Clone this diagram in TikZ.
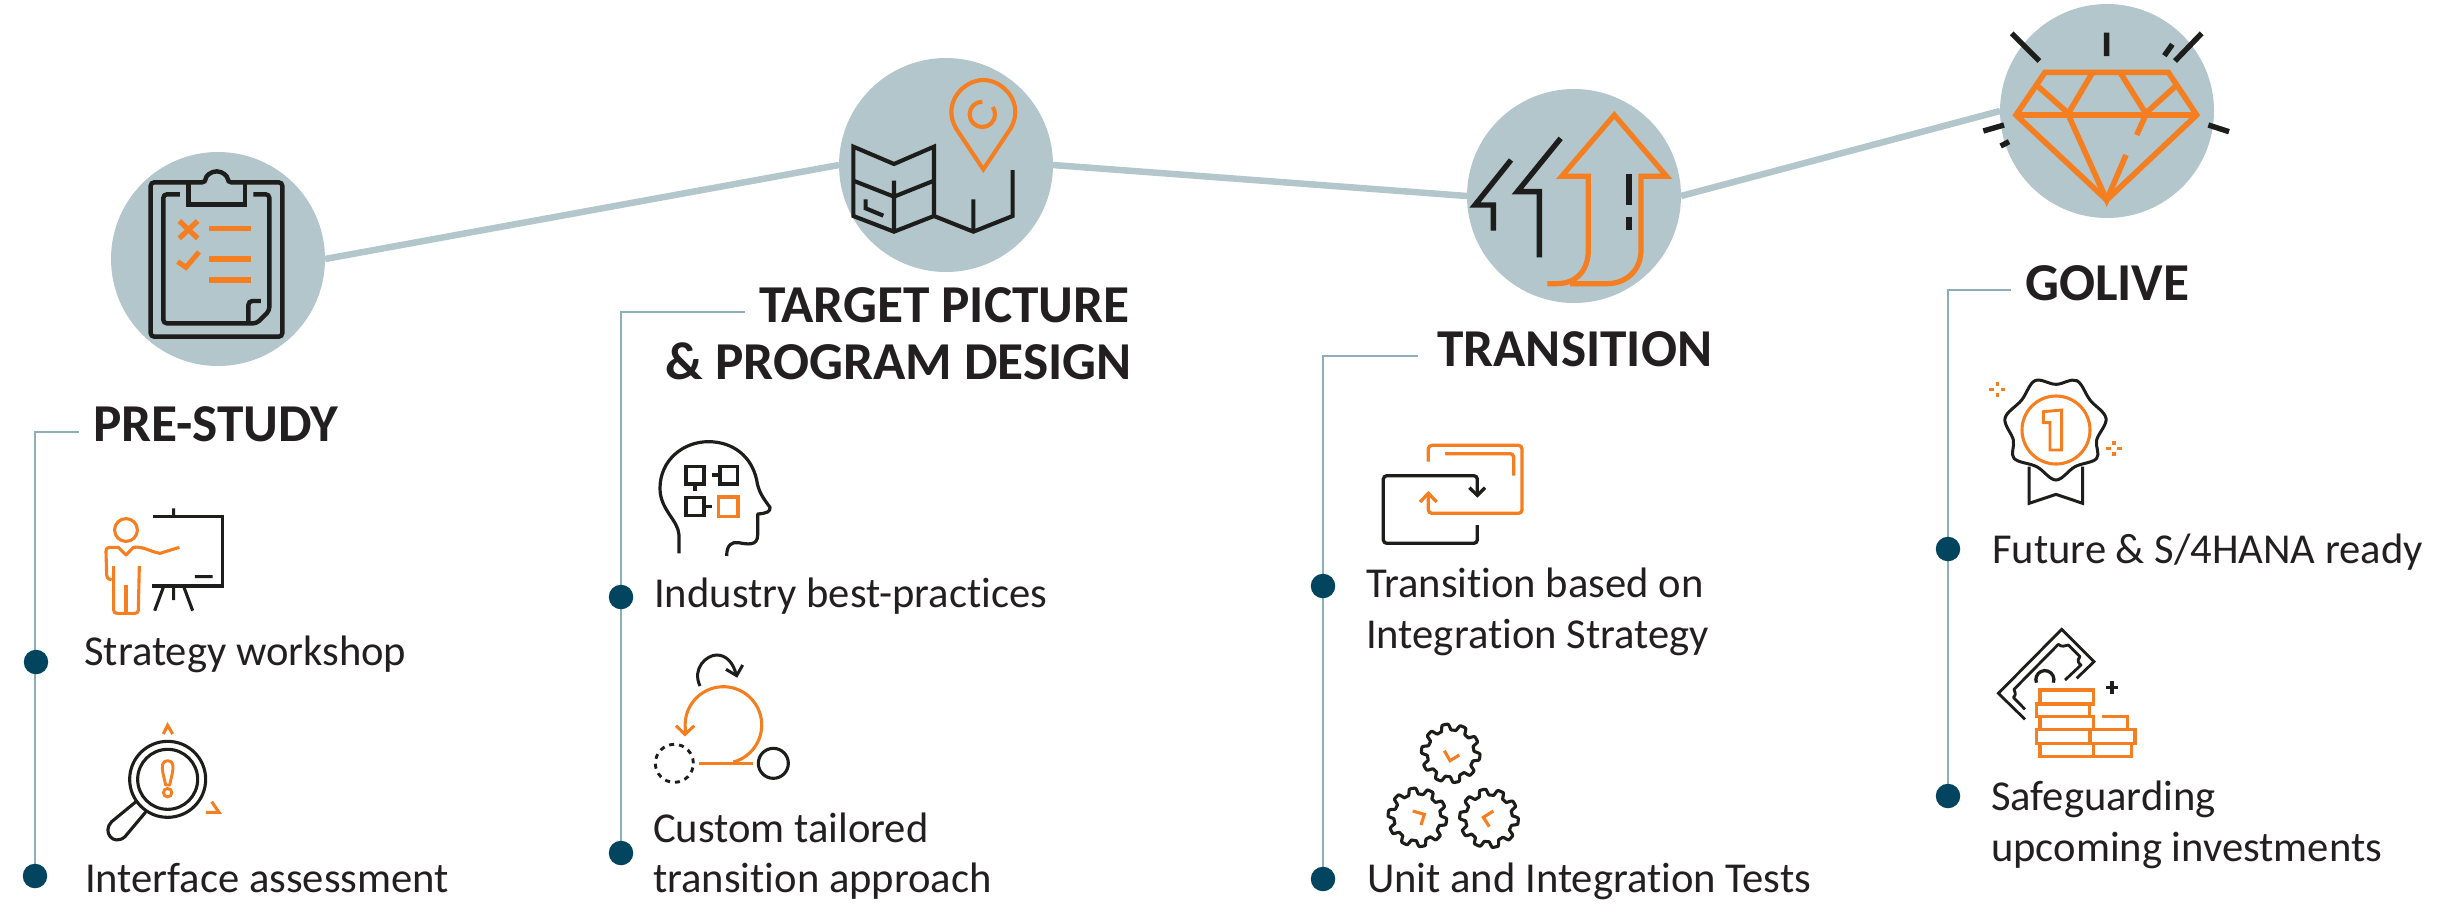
\documentclass[tikz,border=0pt]{standalone}
\usepackage{fontspec}
\setmainfont{Carlito}[Ligatures=NoCommon]
\usetikzlibrary{backgrounds}
\definecolor{disc}{HTML}{B2C6CC}
\definecolor{spine}{HTML}{8FAEBC}
\definecolor{dotc}{HTML}{03455F}
\definecolor{org}{HTML}{F47E20}
\definecolor{ink}{HTML}{1D1D1B}
\definecolor{txt}{HTML}{231F20}
\tikzset{
  disc node/.style={circle,fill=disc,minimum size=214pt,inner sep=0pt,outer sep=0pt},
  dot node/.style={circle,fill=dotc,minimum size=24.5pt,inner sep=0pt,outer sep=0pt},
  link/.style={draw=disc,line width=6.5pt},
  spine line/.style={draw=spine,line width=1.6pt},
  title text/.style={anchor=base west,inner sep=0pt,text=txt,font=\fontsize{53.3}{53.3}\selectfont\bfseries},
  title right/.style={anchor=base east,inner sep=0pt,text=txt,font=\fontsize{53.3}{53.3}\selectfont\bfseries},
  body text/.style={anchor=base west,inner sep=0pt,text=txt,font=\fontsize{42.6}{42.6}\selectfont},
  blk/.style={draw=ink,line cap=butt,line join=miter},
  orn/.style={draw=org,line cap=butt,line join=miter},
  icon/.style={x=0.33333pt,y=-0.33333pt},
}
\newcommand{\gearshape}[3]{%
  \draw[blk,line width=3.1pt,line join=round] plot[domain=0:360,samples=181,smooth cycle]
    ({#1+(79+9*max(-1,min(1,2.2*sin(10*\x+#3))))*cos(\x)},{#2+(79+9*max(-1,min(1,2.2*sin(10*\x+#3))))*sin(\x)});}
\newcommand{\sparkle}[2]{%
  \draw[orn,line width=3.4pt] (#1-24,#2) -- (#1-10,#2) (#1+10,#2) -- (#1+24,#2) (#1,#2-23) -- (#1,#2-10) (#1,#2+10) -- (#1,#2+23);}
\begin{document}
\begin{tikzpicture}[x=1pt,y=-1pt]
\useasboundingbox (0,0) rectangle (2458,922);

% discs
\node[disc node] (c1) at (218,259) {};
\node[disc node] (c2) at (946,165) {};
\node[disc node] (c3) at (1574,196) {};
\node[disc node] (c4) at (2107,111) {};
\draw[link] (c1.east) -- (c2.west);
\draw[link] (c2.east) -- (c3.west);
\draw[link] (c3.east) -- (c4.west);

% titles
\node[title text] (t1) at (93,441) {PRE-STUDY};
\node[title right] (t2a) at (1130,322) {TARGET PICTURE};
\node[title right] (t2b) at (1132,379) {\&\ PROGRAM DESIGN};
\node[title text] (t3) at (1437,366) {TRANSITION};
\node[title text] (t4) at (2025,300) {GOLIVE};

% items
\node[body text] (b11) at (84,665) {Strategy workshop};
\node[body text] (b12) at (85,892) {Interface assessment};
\node[body text] (b21) at (654,607) {Industry best-practices};
\node[body text] (b22a) at (653,842) {Custom tailored};
\node[body text] (b22b) at (653,892) {transition approach};
\node[body text] (b31a) at (1366,597) {Transition based on};
\node[body text] (b31b) at (1366,648) {Integration Strategy};
\node[body text] (b32) at (1367,892) {Unit and Integration Tests};
\node[body text] (b41) at (1992,563) {Future \&\ S/4HANA ready};
\node[body text] (b42a) at (1991,810) {Safeguarding};
\node[body text] (b42b) at (1991,861) {upcoming investments};

% spines with bullets
\node[dot node] (d11) at (36,662) {};
\node[dot node] (d12) at (35,876) {};
\node[dot node] (d21) at (621,597) {};
\node[dot node] (d22) at (621,853) {};
\node[dot node] (d31) at (1323,586) {};
\node[dot node] (d32) at (1323,879) {};
\node[dot node] (d41) at (1948,549) {};
\node[dot node] (d42) at (1948,796) {};
\coordinate (s1) at (79,432);
\coordinate (s2) at (745,312);
\coordinate (s3) at (1418,356);
\coordinate (s4) at (2011,290);
\begin{pgfonlayer}{background}
\draw[spine line] (s1) -| (d12.center);
\draw[spine line] (s2) -| (d22.center);
\draw[spine line] (s3) -| (d32.center);
\draw[spine line] (s4) -| (d42.center);
\end{pgfonlayer}

% clipboard
\begin{scope}[shift={(0,130)},icon]
\draw[blk,line width=4.4pt,rounded corners=3.5pt] (617,157) arc[start angle=180,end angle=0,radius=11pt] -- (847,157) -- (847,620) -- (452,620) -- (452,157) -- cycle;
\draw[blk,line width=4.4pt] (565,157) -- (565,224) -- (735,224) -- (735,157);
\draw[blk,line width=4.4pt,rounded corners=3.5pt] (540,193) -- (490,193) -- (490,580) -- (770,580) -- (808,542) -- (808,193) -- (760,193);
\draw[blk,line width=4.4pt,rounded corners=4pt] (745,580) -- (745,513) -- (783,513);
\draw[orn,line width=5.2pt] (538,273) -- (593,325) (593,273) -- (538,325);
\draw[orn,line width=5pt] (533,395) -- (558,412) -- (597,366);
\draw[orn,line width=5.6pt] (628,296) -- (753,296) (628,387) -- (753,387) (628,450) -- (753,450);
\end{scope}

% presenter
\begin{scope}[shift={(0,470)},icon]
\draw[blk,line width=3.1pt] (460,140) -- (667,140) -- (667,348) -- (457,348);
\draw[blk,line width=3.1pt] (521,115) -- (521,140) (585,320) -- (638,320) (490,352) -- (464,422) (521,352) -- (521,390) (552,352) -- (578,422);
\draw[orn,line width=3.1pt] (378,180) circle[radius=11.4pt];
\draw[orn,line width=3.1pt,line join=round] (335,330) .. controls (322,326) and (320,322) .. (320,315) -- (318,245) .. controls (318,235) and (322,232) .. (330,232) -- (355,232) -- (378,255) -- (400,232) .. controls (430,228) and (450,245) .. (480,250) -- (538,232);
\draw[orn,line width=3.1pt,line join=round] (341,288) -- (341,420) .. controls (341,428) and (345,430) .. (352,430) -- (405,430) .. controls (412,430) and (415,426) .. (415,420) -- (418,288);
\draw[orn,line width=3.1pt] (378,345) -- (378,430);
\end{scope}

% magnifier
\begin{scope}[shift={(0,470)},icon]
\draw[blk,line width=3.1pt] (503,928) circle[radius=38pt];
\draw[blk,line width=3.1pt] (503,928) circle[radius=30pt];
\draw[blk,line width=3.1pt,line join=round] (408,995) -- (335,1055) .. controls (305,1085) and (340,1130) .. (375,1100) -- (438,1025);
\draw[orn,line width=2.9pt,line join=round] (503,872) .. controls (485,872) and (485,890) .. (489,910) -- (497,945) -- (509,945) -- (517,910) .. controls (521,890) and (521,872) .. (503,872) -- cycle;
\draw[orn,line width=2.9pt] (503,968) circle[radius=4.2pt];
\draw[orn,line width=3.1pt] (490,792) -- (503,766) -- (518,792);
\draw[orn,line width=3.1pt] (618,1027) -- (657,1027) -- (635,995);
\end{scope}

% map and pin
\begin{scope}[shift={(800,40)},icon]
\draw[blk,line width=4.1pt] (160,320) -- (282,372) -- (402,320) -- (402,528) -- (282,575) -- (160,528) -- cycle;
\draw[blk,line width=4.1pt] (160,422) -- (282,470) -- (402,422) (282,422) -- (282,575);
\draw[blk,line width=4.1pt] (197,478) -- (197,505) -- (250,527);
\draw[blk,line width=4.1pt] (402,528) -- (520,575) -- (638,528) -- (638,390) (520,478) -- (520,575);
\draw[orn,line width=4.1pt] (550,388) -- (468,265) .. controls (425,190) and (490,120) .. (550,120) .. controls (610,120) and (675,190) .. (632,265) -- cycle;
\draw[orn,line width=4.1pt] (547,185) arc[start angle=90,end angle=395,radius=12.7pt];
\end{scope}

% head and loop
\begin{scope}[shift={(600,420)},icon]
\draw[blk,line width=3.2pt,line join=round] (237,400) -- (237,345) .. controls (235,300) and (180,270) .. (180,205) .. controls (180,120) and (250,65) .. (325,65) .. controls (400,65) and (455,110) .. (470,180) .. controls (475,215) and (490,235) .. (510,262) .. controls (512,275) and (500,280) .. (473,282) -- (473,345) .. controls (473,380) and (440,372) .. (415,368) .. controls (395,365) and (380,375) .. (380,408);
\draw[blk,line width=3.2pt] (258,140) rectangle (312,192) (285,192) -- (285,212);
\draw[blk,line width=3.2pt] (360,140) rectangle (412,192) (335,165) -- (360,165);
\draw[blk,line width=3.2pt] (258,232) rectangle (312,286) (312,260) -- (335,260);
\draw[orn,line width=3.4pt] (356,231) rectangle (414,289);
\draw[blk,line width=3pt] (300,798) .. controls (275,745) and (320,705) .. (350,705) .. controls (380,705) and (400,730) .. (408,762);
\draw[blk,line width=3pt] (378,748) -- (410,767) -- (428,735);
\draw[orn,line width=3.1pt] (298,1030) -- (458,1030);
\draw[orn,line width=3.1pt] (400,1026) arc[start angle=-75,end angle=190,radius=38.3pt];
\draw[orn,line width=3.1pt] (228,917) -- (255,943) -- (283,917);
\draw[blk,line width=2.9pt,dash pattern=on 5pt off 5pt] (223,1030) circle[radius=19pt];
\draw[blk,line width=3.1pt] (520,1030) circle[radius=15pt];
\end{scope}

% road arrow
\begin{scope}[shift={(1440,70)},icon]
\draw[orn,line width=5.2pt] (322,641) -- (350,641) .. controls (410,641) and (445,600) .. (445,540) -- (445,319) -- (365,319) -- (523,135) -- (680,319) -- (603,319) -- (603,540) .. controls (603,600) and (560,641) .. (500,641) -- (390,641);
\draw[blk,line width=5.4pt] (213,270) -- (105,405) -- (160,405) -- (160,482);
\draw[blk,line width=5.4pt] (362,205) -- (232,365) -- (298,365) -- (298,562);
\draw[blk,line width=5.4pt] (567,313) -- (567,405) (567,440) -- (567,480);
\end{scope}

% swap frames
\begin{scope}[shift={(1340,420)},icon]
\draw[blk,line width=3.3pt,rounded corners=3.5pt] (412,315) -- (412,370) -- (130,370) -- (130,167) -- (412,167) -- (412,225);
\draw[blk,line width=3.3pt] (388,203) -- (412,226) -- (435,203);
\draw[orn,line width=3.3pt,rounded corners=3.5pt] (265,125) -- (265,76) -- (546,76) -- (546,280) -- (265,280) -- (265,222);
\draw[orn,line width=3.3pt] (240,246) -- (265,220) -- (290,246);
\draw[orn,line width=3.3pt,rounded corners=3.5pt] (315,101) -- (521,101) -- (521,167);
\end{scope}

% gears
\begin{scope}[shift={(1360,700)},icon]
\gearshape{272}{160}{20}
\gearshape{172}{352}{5}
\gearshape{387}{355}{35}
\draw[orn,line width=3.1pt] (253,152) -- (270,182) -- (298,165);
\draw[orn,line width=3.1pt] (158,333) -- (193,343) -- (183,375);
\draw[orn,line width=3.1pt] (400,333) -- (370,352) -- (388,380);
\end{scope}

% diamond
\begin{scope}[shift={(1980,0)},icon]
\draw[orn,line width=5.6pt,line join=miter] (195,217) -- (565,217) -- (650,345) -- (380,600) -- (108,345) -- cycle;
\draw[orn,line width=5.6pt] (108,345) -- (650,345);
\draw[orn,line width=5.6pt] (175,260) -- (265,340) -- (338,217);
\draw[orn,line width=5.6pt] (420,217) -- (497,340) -- (585,260);
\draw[orn,line width=5.6pt] (265,345) -- (380,600) -- (438,465);
\draw[orn,line width=5.6pt] (497,345) -- (470,405);
\draw[blk,line width=5.4pt] (95,100) -- (178,183) (380,98) -- (380,168) (665,100) -- (585,183) (577,133) -- (553,167) (10,393) -- (72,375) (62,438) -- (87,425) (685,375) -- (747,395);
\end{scope}

% rosette
\begin{scope}[shift={(1980,360)},icon]
\draw[blk,line width=3pt] plot[smooth cycle,tension=0.6] coordinates {(165,62) (228,73) (290,62) (330,120) (378,175) (350,240) (350,295) (285,320) (228,360) (170,320) (102,295) (100,240) (75,175) (125,120)};
\draw[blk,line width=3pt] (147,320) -- (147,430) -- (228,403) -- (308,430) -- (308,320);
\draw[orn,line width=3.1pt] (228,210) circle[radius=34pt];
\draw[orn,line width=2.9pt] (190,155) -- (245,150) -- (245,270) -- (210,270) -- (210,188) -- (190,188) -- cycle;
\sparkle{52}{88}
\sparkle{402}{265}
\end{scope}

% money
\begin{scope}[shift={(1980,610)},icon]
\draw[blk,line width=2.8pt] (135,328) -- (55,250) -- (245,58) -- (342,155) -- (290,205);
\draw[blk,line width=2.8pt,line join=round] (135,298) -- (100,262) .. controls (110,255) and (105,245) .. (102,238) -- (235,103) .. controls (245,112) and (255,108) .. (265,105) -- (300,140) .. controls (290,150) and (295,160) .. (303,165) -- (255,210);
\draw[blk,line width=3.3pt] (220,218) arc[start angle=-20,end angle=200,radius=9pt];
\draw[blk,line width=3.3pt] (378,233) -- (415,233) (396,212) -- (396,252);
\draw[orn,line width=3.5pt] (180,240) rectangle (340,282);
\draw[orn,line width=3.5pt] (170,282) rectangle (328,320);
\draw[orn,line width=3.5pt] (180,320) rectangle (340,358);
\draw[orn,line width=3.5pt] (170,358) rectangle (330,400) (330,358) rectangle (465,400);
\draw[orn,line width=3.5pt] (180,400) rectangle (340,440) (340,400) rectangle (455,440);
\draw[orn,line width=3.5pt] (365,320) -- (442,320) -- (442,358);
\end{scope}
\end{tikzpicture}
\end{document}
